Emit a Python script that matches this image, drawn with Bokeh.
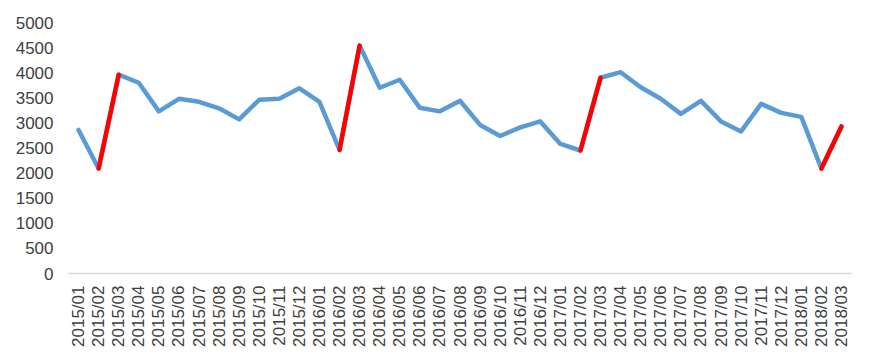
import math
from bokeh.plotting import figure
from bokeh.models import FactorRange, Range1d, FixedTicker, ColumnDataSource
from bokeh.embed import file_html
from bokeh.resources import INLINE

months = [
    "2015/01", "2015/02", "2015/03", "2015/04", "2015/05", "2015/06", "2015/07",
    "2015/08", "2015/09", "2015/10", "2015/11", "2015/12",
    "2016/01", "2016/02", "2016/03", "2016/04", "2016/05", "2016/06", "2016/07",
    "2016/08", "2016/09", "2016/10", "2016/11", "2016/12",
    "2017/01", "2017/02", "2017/03", "2017/04", "2017/05", "2017/06", "2017/07",
    "2017/08", "2017/09", "2017/10", "2017/11", "2017/12",
    "2018/01", "2018/02", "2018/03",
]
values = [
    2860, 2090, 3960, 3800, 3230, 3480, 3420, 3290, 3070, 3460, 3480, 3690,
    3420, 2460, 4540, 3700, 3860, 3300, 3230, 3440, 2960, 2740, 2910, 3030,
    2580, 2450, 3900, 4010, 3710, 3480, 3180, 3440, 3030, 2830, 3380, 3200,
    3120, 2090, 2930,
]
y_ticks = [0, 500, 1000, 1500, 2000, 2500, 3000, 3500, 4000, 4500, 5000]

# highlighted February -> March segments
hi_idx = [i for i in range(len(months) - 1) if months[i].endswith("/02")]
seg = ColumnDataSource(dict(
    x0=[months[i] for i in hi_idx], y0=[values[i] for i in hi_idx],
    x1=[months[i + 1] for i in hi_idx], y1=[values[i + 1] for i in hi_idx],
))

p = figure(
    width=874, height=363, output_backend="svg", toolbar_location=None,
    x_range=FactorRange(*months, range_padding=0), y_range=Range1d(0, 5000),
    min_border_left=68, min_border_right=23, min_border_top=22, min_border_bottom=90,
)
p.outline_line_color = None
p.background_fill_color = "white"
p.border_fill_color = "white"
p.xgrid.grid_line_color = None
p.ygrid.grid_line_color = None

p.line(months, values, line_color="#5b9bd5", line_width=4.5,
       line_join="round", line_cap="round")
p.segment("x0", "y0", "x1", "y1", source=seg, line_color="#ff0000",
          line_width=4.5, line_cap="round")

font = "Liberation Sans"
p.yaxis.ticker = FixedTicker(ticks=y_ticks)
p.yaxis.axis_line_color = None
p.yaxis.major_tick_line_color = None
p.yaxis.minor_tick_line_color = None
p.yaxis.major_tick_out = 0
p.yaxis.minor_tick_out = 0
p.yaxis.major_label_standoff = 15
p.yaxis.major_label_text_font = font
p.yaxis.major_label_text_font_size = "17px"
p.yaxis.major_label_text_color = "#404040"

p.xaxis.axis_line_color = "#d9d9d9"
p.xaxis.axis_line_width = 1.5
p.xaxis.major_tick_line_color = None
p.xaxis.minor_tick_line_color = None
p.xaxis.major_tick_out = 0
p.xaxis.minor_tick_out = 0
p.xaxis.major_label_orientation = math.pi / 2
p.xaxis.major_label_standoff = 12
p.xaxis.major_label_text_font = font
p.xaxis.major_label_text_font_size = "17px"
p.xaxis.major_label_text_color = "#404040"

open("out.html", "w").write(file_html(p, INLINE))
